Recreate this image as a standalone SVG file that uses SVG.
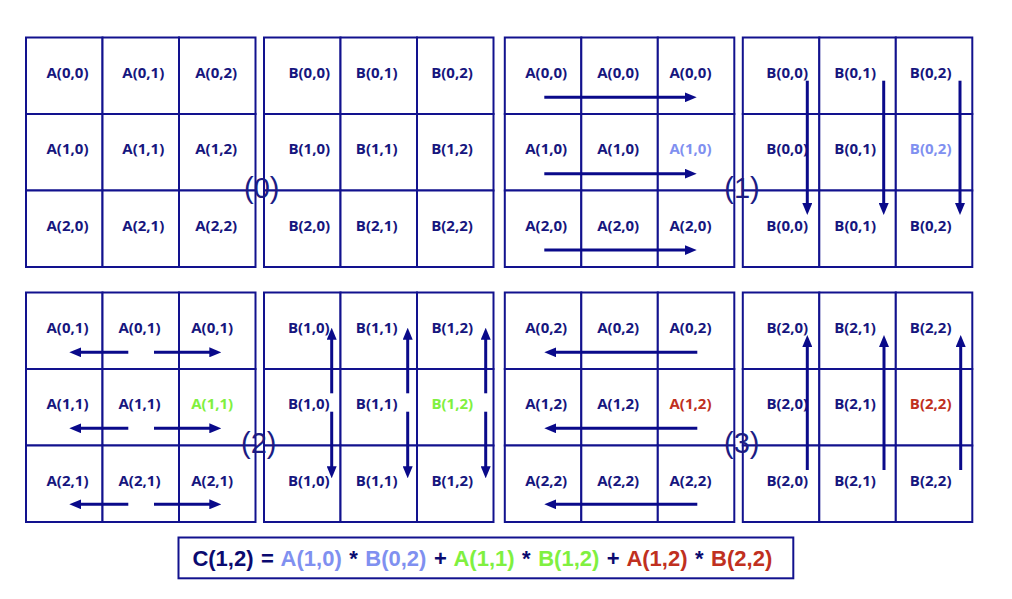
<svg xmlns="http://www.w3.org/2000/svg" width="1012" height="599" viewBox="0 0 1012 599">
<style>
.c{fill:#fff;stroke:#12128e;stroke-width:2}
.t{font-family:"Open Sans","Noto Sans",sans-serif;font-weight:bold;font-size:15px;fill:#16167e;text-anchor:middle}
.lb{fill:#8090f0}.gr{fill:#80f040}.rd{fill:#c03020}
.step{font-family:"Liberation Sans",Arial,sans-serif;font-size:29px;fill:#1c1c84;text-anchor:middle}
.ar{stroke:#0a0a8a;stroke-width:3;fill:none;marker-end:url(#ah)}
.f{font-family:"Liberation Sans",Arial,sans-serif;font-weight:bold;font-size:22px;fill:#0a0a70;word-spacing:1.4px}
</style>
<defs>
<marker id="ah" viewBox="0 0 12 10" refX="6" refY="5" markerWidth="12" markerHeight="10" markerUnits="userSpaceOnUse" orient="auto"><path d="M0,0 L12,5 L0,10 z" fill="#0a0a8a"/></marker>
</defs>
<rect width="1012" height="599" fill="#fff"/>

<!-- Step 0: A -->
<g id="A0">
<g id="A0-00"><rect class="c" x="26" y="37.5" width="76.5" height="76.5"/><text class="t" x="67.5" y="77.5">A(0,0)</text></g>
<g id="A0-01"><rect class="c" x="102.5" y="37.5" width="76.5" height="76.5"/><text class="t" x="143.3" y="77.5">A(0,1)</text></g>
<g id="A0-02"><rect class="c" x="179" y="37.5" width="76.5" height="76.5"/><text class="t" x="216.2" y="77.5">A(0,2)</text></g>
<g id="A0-10"><rect class="c" x="26" y="114" width="76.5" height="76.5"/><text class="t" x="67.5" y="154">A(1,0)</text></g>
<g id="A0-11"><rect class="c" x="102.5" y="114" width="76.5" height="76.5"/><text class="t" x="143.3" y="154">A(1,1)</text></g>
<g id="A0-12"><rect class="c" x="179" y="114" width="76.5" height="76.5"/><text class="t" x="216.2" y="154">A(1,2)</text></g>
<g id="A0-20"><rect class="c" x="26" y="190.5" width="76.5" height="76.5"/><text class="t" x="67.5" y="230.5">A(2,0)</text></g>
<g id="A0-21"><rect class="c" x="102.5" y="190.5" width="76.5" height="76.5"/><text class="t" x="143.3" y="230.5">A(2,1)</text></g>
<g id="A0-22"><rect class="c" x="179" y="190.5" width="76.5" height="76.5"/><text class="t" x="216.2" y="230.5">A(2,2)</text></g>
</g>

<!-- Step 0: B -->
<g id="B0">
<g id="B0-00"><rect class="c" x="264" y="37.5" width="76.5" height="76.5"/><text class="t" x="309.3" y="77.5">B(0,0)</text></g>
<g id="B0-01"><rect class="c" x="340.5" y="37.5" width="76.5" height="76.5"/><text class="t" x="376.7" y="77.5">B(0,1)</text></g>
<g id="B0-02"><rect class="c" x="417" y="37.5" width="76.5" height="76.5"/><text class="t" x="452" y="77.5">B(0,2)</text></g>
<g id="B0-10"><rect class="c" x="264" y="114" width="76.5" height="76.5"/><text class="t" x="309.3" y="154">B(1,0)</text></g>
<g id="B0-11"><rect class="c" x="340.5" y="114" width="76.5" height="76.5"/><text class="t" x="376.7" y="154">B(1,1)</text></g>
<g id="B0-12"><rect class="c" x="417" y="114" width="76.5" height="76.5"/><text class="t" x="452" y="154">B(1,2)</text></g>
<g id="B0-20"><rect class="c" x="264" y="190.5" width="76.5" height="76.5"/><text class="t" x="309.3" y="230.5">B(2,0)</text></g>
<g id="B0-21"><rect class="c" x="340.5" y="190.5" width="76.5" height="76.5"/><text class="t" x="376.7" y="230.5">B(2,1)</text></g>
<g id="B0-22"><rect class="c" x="417" y="190.5" width="76.5" height="76.5"/><text class="t" x="452" y="230.5">B(2,2)</text></g>
</g>

<!-- Step 1: A -->
<g id="A1">
<g id="A1-00"><rect class="c" x="504.8" y="37.5" width="76.5" height="76.5"/><text class="t" x="546.2" y="77.5">A(0,0)</text></g>
<g id="A1-01"><rect class="c" x="581.3" y="37.5" width="76.5" height="76.5"/><text class="t" x="618.2" y="77.5">A(0,0)</text></g>
<g id="A1-02"><rect class="c" x="657.8" y="37.5" width="76.5" height="76.5"/><text class="t" x="690.5" y="77.5">A(0,0)</text></g>
<g id="A1-10"><rect class="c" x="504.8" y="114" width="76.5" height="76.5"/><text class="t" x="546.2" y="154">A(1,0)</text></g>
<g id="A1-11"><rect class="c" x="581.3" y="114" width="76.5" height="76.5"/><text class="t" x="618.2" y="154">A(1,0)</text></g>
<g id="A1-12"><rect class="c" x="657.8" y="114" width="76.5" height="76.5"/><text class="t lb" x="690.5" y="154">A(1,0)</text></g>
<g id="A1-20"><rect class="c" x="504.8" y="190.5" width="76.5" height="76.5"/><text class="t" x="546.2" y="230.5">A(2,0)</text></g>
<g id="A1-21"><rect class="c" x="581.3" y="190.5" width="76.5" height="76.5"/><text class="t" x="618.2" y="230.5">A(2,0)</text></g>
<g id="A1-22"><rect class="c" x="657.8" y="190.5" width="76.5" height="76.5"/><text class="t" x="690.5" y="230.5">A(2,0)</text></g>
</g>

<!-- Step 1: B -->
<g id="B1">
<g id="B1-00"><rect class="c" x="742.8" y="37.5" width="76.5" height="76.5"/><text class="t" x="787.2" y="77.5">B(0,0)</text></g>
<g id="B1-01"><rect class="c" x="819.3" y="37.5" width="76.5" height="76.5"/><text class="t" x="855.2" y="77.5">B(0,1)</text></g>
<g id="B1-02"><rect class="c" x="895.8" y="37.5" width="76.5" height="76.5"/><text class="t" x="930.7" y="77.5">B(0,2)</text></g>
<g id="B1-10"><rect class="c" x="742.8" y="114" width="76.5" height="76.5"/><text class="t" x="787.2" y="154">B(0,0)</text></g>
<g id="B1-11"><rect class="c" x="819.3" y="114" width="76.5" height="76.5"/><text class="t" x="855.2" y="154">B(0,1)</text></g>
<g id="B1-12"><rect class="c" x="895.8" y="114" width="76.5" height="76.5"/><text class="t lb" x="930.7" y="154">B(0,2)</text></g>
<g id="B1-20"><rect class="c" x="742.8" y="190.5" width="76.5" height="76.5"/><text class="t" x="787.2" y="230.5">B(0,0)</text></g>
<g id="B1-21"><rect class="c" x="819.3" y="190.5" width="76.5" height="76.5"/><text class="t" x="855.2" y="230.5">B(0,1)</text></g>
<g id="B1-22"><rect class="c" x="895.8" y="190.5" width="76.5" height="76.5"/><text class="t" x="930.7" y="230.5">B(0,2)</text></g>
</g>

<!-- Step 2: A -->
<g id="A2">
<g id="A2-00"><rect class="c" x="26" y="292.5" width="76.5" height="76.5"/><text class="t" x="67.5" y="332.5">A(0,1)</text></g>
<g id="A2-01"><rect class="c" x="102.5" y="292.5" width="76.5" height="76.5"/><text class="t" x="139.5" y="332.5">A(0,1)</text></g>
<g id="A2-02"><rect class="c" x="179" y="292.5" width="76.5" height="76.5"/><text class="t" x="212.2" y="332.5">A(0,1)</text></g>
<g id="A2-10"><rect class="c" x="26" y="369" width="76.5" height="76.5"/><text class="t" x="67.5" y="409">A(1,1)</text></g>
<g id="A2-11"><rect class="c" x="102.5" y="369" width="76.5" height="76.5"/><text class="t" x="139.5" y="409">A(1,1)</text></g>
<g id="A2-12"><rect class="c" x="179" y="369" width="76.5" height="76.5"/><text class="t gr" x="212.2" y="409">A(1,1)</text></g>
<g id="A2-20"><rect class="c" x="26" y="445.5" width="76.5" height="76.5"/><text class="t" x="67.5" y="485.5">A(2,1)</text></g>
<g id="A2-21"><rect class="c" x="102.5" y="445.5" width="76.5" height="76.5"/><text class="t" x="139.5" y="485.5">A(2,1)</text></g>
<g id="A2-22"><rect class="c" x="179" y="445.5" width="76.5" height="76.5"/><text class="t" x="212.2" y="485.5">A(2,1)</text></g>
</g>

<!-- Step 2: B -->
<g id="B2">
<g id="B2-00"><rect class="c" x="264" y="292.5" width="76.5" height="76.5"/><text class="t" x="308.8" y="332.5">B(1,0)</text></g>
<g id="B2-01"><rect class="c" x="340.5" y="292.5" width="76.5" height="76.5"/><text class="t" x="376.7" y="332.5">B(1,1)</text></g>
<g id="B2-02"><rect class="c" x="417" y="292.5" width="76.5" height="76.5"/><text class="t" x="452.3" y="332.5">B(1,2)</text></g>
<g id="B2-10"><rect class="c" x="264" y="369" width="76.5" height="76.5"/><text class="t" x="308.8" y="409">B(1,0)</text></g>
<g id="B2-11"><rect class="c" x="340.5" y="369" width="76.5" height="76.5"/><text class="t" x="376.7" y="409">B(1,1)</text></g>
<g id="B2-12"><rect class="c" x="417" y="369" width="76.5" height="76.5"/><text class="t gr" x="452.3" y="409">B(1,2)</text></g>
<g id="B2-20"><rect class="c" x="264" y="445.5" width="76.5" height="76.5"/><text class="t" x="308.8" y="485.5">B(1,0)</text></g>
<g id="B2-21"><rect class="c" x="340.5" y="445.5" width="76.5" height="76.5"/><text class="t" x="376.7" y="485.5">B(1,1)</text></g>
<g id="B2-22"><rect class="c" x="417" y="445.5" width="76.5" height="76.5"/><text class="t" x="452.3" y="485.5">B(1,2)</text></g>
</g>

<!-- Step 3: A -->
<g id="A3">
<g id="A3-00"><rect class="c" x="504.8" y="292.5" width="76.5" height="76.5"/><text class="t" x="546.2" y="332.5">A(0,2)</text></g>
<g id="A3-01"><rect class="c" x="581.3" y="292.5" width="76.5" height="76.5"/><text class="t" x="618.2" y="332.5">A(0,2)</text></g>
<g id="A3-02"><rect class="c" x="657.8" y="292.5" width="76.5" height="76.5"/><text class="t" x="690.5" y="332.5">A(0,2)</text></g>
<g id="A3-10"><rect class="c" x="504.8" y="369" width="76.5" height="76.5"/><text class="t" x="546.2" y="409">A(1,2)</text></g>
<g id="A3-11"><rect class="c" x="581.3" y="369" width="76.5" height="76.5"/><text class="t" x="618.2" y="409">A(1,2)</text></g>
<g id="A3-12"><rect class="c" x="657.8" y="369" width="76.5" height="76.5"/><text class="t rd" x="690.5" y="409">A(1,2)</text></g>
<g id="A3-20"><rect class="c" x="504.8" y="445.5" width="76.5" height="76.5"/><text class="t" x="546.2" y="485.5">A(2,2)</text></g>
<g id="A3-21"><rect class="c" x="581.3" y="445.5" width="76.5" height="76.5"/><text class="t" x="618.2" y="485.5">A(2,2)</text></g>
<g id="A3-22"><rect class="c" x="657.8" y="445.5" width="76.5" height="76.5"/><text class="t" x="690.5" y="485.5">A(2,2)</text></g>
</g>

<!-- Step 3: B -->
<g id="B3">
<g id="B3-00"><rect class="c" x="742.8" y="292.5" width="76.5" height="76.5"/><text class="t" x="787.3" y="332.5">B(2,0)</text></g>
<g id="B3-01"><rect class="c" x="819.3" y="292.5" width="76.5" height="76.5"/><text class="t" x="855" y="332.5">B(2,1)</text></g>
<g id="B3-02"><rect class="c" x="895.8" y="292.5" width="76.5" height="76.5"/><text class="t" x="930.7" y="332.5">B(2,2)</text></g>
<g id="B3-10"><rect class="c" x="742.8" y="369" width="76.5" height="76.5"/><text class="t" x="787.3" y="409">B(2,0)</text></g>
<g id="B3-11"><rect class="c" x="819.3" y="369" width="76.5" height="76.5"/><text class="t" x="855" y="409">B(2,1)</text></g>
<g id="B3-12"><rect class="c" x="895.8" y="369" width="76.5" height="76.5"/><text class="t rd" x="930.7" y="409">B(2,2)</text></g>
<g id="B3-20"><rect class="c" x="742.8" y="445.5" width="76.5" height="76.5"/><text class="t" x="787.3" y="485.5">B(2,0)</text></g>
<g id="B3-21"><rect class="c" x="819.3" y="445.5" width="76.5" height="76.5"/><text class="t" x="855" y="485.5">B(2,1)</text></g>
<g id="B3-22"><rect class="c" x="895.8" y="445.5" width="76.5" height="76.5"/><text class="t" x="930.7" y="485.5">B(2,2)</text></g>
</g>

<g id="connectors">
<line class="ar" x1="544.3" y1="97.3" x2="690.7" y2="97.3"/>
<line class="ar" x1="544.3" y1="173.7" x2="690.7" y2="173.7"/>
<line class="ar" x1="544.3" y1="250" x2="690.7" y2="250"/>
<line class="ar" x1="807.3" y1="80.7" x2="807.3" y2="209"/>
<line class="ar" x1="883.7" y1="80.7" x2="883.7" y2="209"/>
<line class="ar" x1="960" y1="80.7" x2="960" y2="209"/>
<line class="ar" x1="128.3" y1="352.3" x2="75.3" y2="352.3"/>
<line class="ar" x1="154" y1="352.3" x2="215.3" y2="352.3"/>
<line class="ar" x1="128.3" y1="428.3" x2="75.3" y2="428.3"/>
<line class="ar" x1="154" y1="428.3" x2="215.3" y2="428.3"/>
<line class="ar" x1="128.3" y1="504.3" x2="75.3" y2="504.3"/>
<line class="ar" x1="154" y1="504.3" x2="215.3" y2="504.3"/>
<line class="ar" x1="331.7" y1="393.3" x2="331.7" y2="333.7"/>
<line class="ar" x1="331.7" y1="411.7" x2="331.7" y2="472.3"/>
<line class="ar" x1="407.7" y1="393.3" x2="407.7" y2="333.7"/>
<line class="ar" x1="407.7" y1="411.7" x2="407.7" y2="472.3"/>
<line class="ar" x1="485.7" y1="393.3" x2="485.7" y2="333.7"/>
<line class="ar" x1="485.7" y1="411.7" x2="485.7" y2="472.3"/>
<line class="ar" x1="697.3" y1="352.3" x2="550.3" y2="352.3"/>
<line class="ar" x1="697.3" y1="428.3" x2="550.3" y2="428.3"/>
<line class="ar" x1="697.3" y1="504.3" x2="550.3" y2="504.3"/>
<line class="ar" x1="807.3" y1="470" x2="807.3" y2="341"/>
<line class="ar" x1="884" y1="470" x2="884" y2="341"/>
<line class="ar" x1="960.7" y1="470" x2="960.7" y2="341"/>
</g>

<g id="steps">
<text class="step" x="261.7" y="198">(0)</text>
<text class="step" x="742" y="198">(1)</text>
<text class="step" x="258.7" y="453">(2)</text>
<text class="step" x="741.7" y="453">(3)</text>
</g>

<g id="formula">
<rect x="178.5" y="537.5" width="614.8" height="40.8" fill="#fff" stroke="#12128e" stroke-width="2"/>
<text class="f" x="192.4" y="565.5"><tspan>C(1,2) = </tspan><tspan class="lb">A(1,0)</tspan><tspan> * </tspan><tspan class="lb">B(0,2)</tspan><tspan> + </tspan><tspan class="gr">A(1,1)</tspan><tspan> * </tspan><tspan class="gr">B(1,2)</tspan><tspan> + </tspan><tspan class="rd">A(1,2)</tspan><tspan> * </tspan><tspan class="rd">B(2,2)</tspan></text>
</g>
</svg>
